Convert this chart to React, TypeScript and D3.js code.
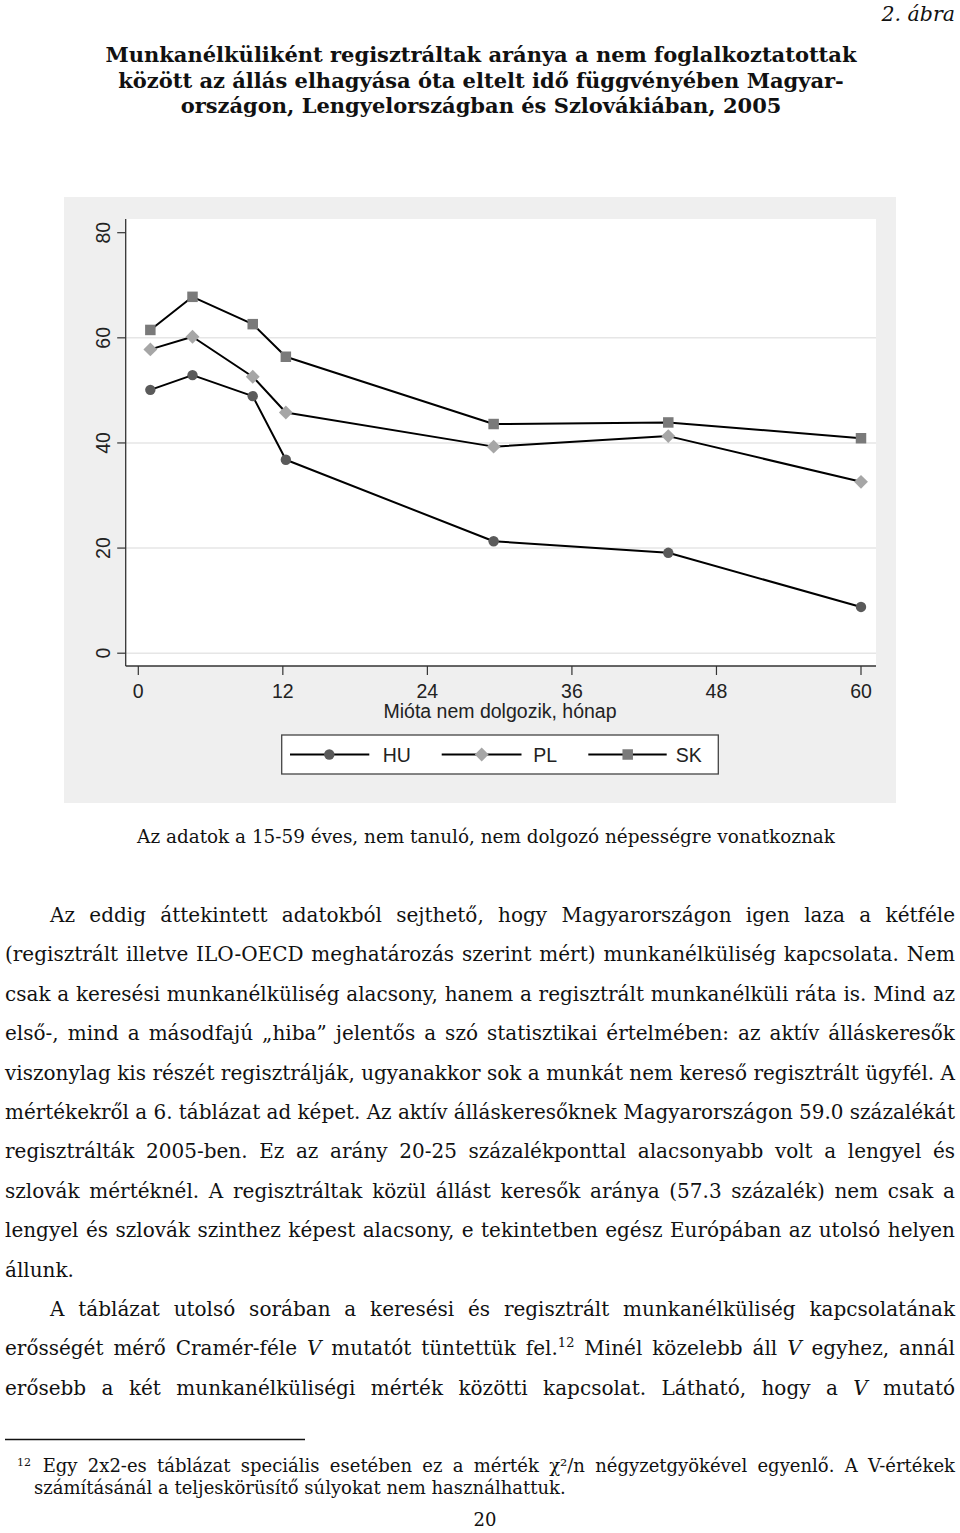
import React, { useRef, useEffect } from 'react';
import * as d3 from 'd3';

// months since leaving last job (bin midpoints as plotted)
const months = [1, 4.5, 9.5, 12.25, 29.5, 44, 60];
const huValues = [50.1, 52.9, 48.9, 36.8, 21.3, 19.1, 8.8];
const plValues = [57.8, 60.2, 52.6, 45.8, 39.3, 41.3, 32.6];
const skValues = [61.5, 67.8, 62.6, 56.4, 43.6, 43.9, 40.9];

const xTicks = [0, 12, 24, 36, 48, 60];
const yTicks = [0, 20, 40, 60, 80];
const gridValues = [0, 20, 40, 60];

const seriesNames = ['HU', 'PL', 'SK'];

const titleLines = [
  'Munkanélküliként regisztráltak aránya a nem foglalkoztatottak',
  'között az állás elhagyása óta eltelt idő függvényében Magyar-',
  'országon, Lengyelországban és Szlovákiában, 2005',
];
const figLabel = '2. ábra';
const xTitle = 'Mióta nem dolgozik, hónap';
const caption = 'Az adatok a 15-59 éves, nem tanuló, nem dolgozó népességre vonatkoznak';

// "{V}" = italic V, "^12" = superscript footnote mark
const bodyLines = [
  'Az eddig áttekintett adatokból sejthető, hogy Magyarországon igen laza a kétféle',
  '(regisztrált illetve ILO-OECD meghatározás szerint mért) munkanélküliség kapcsolata. Nem',
  'csak a keresési munkanélküliség alacsony, hanem a regisztrált munkanélküli ráta is. Mind az',
  'első-, mind a másodfajú „hiba” jelentős a szó statisztikai értelmében: az aktív álláskeresők',
  'viszonylag kis részét regisztrálják, ugyanakkor sok a munkát nem kereső regisztrált ügyfél. A',
  'mértékekről a 6. táblázat ad képet. Az aktív álláskeresőknek Magyarországon 59.0 százalékát',
  'regisztrálták 2005-ben. Ez az arány 20-25 százalékponttal alacsonyabb volt a lengyel és',
  'szlovák mértéknél. A regisztráltak közül állást keresők aránya (57.3 százalék) nem csak a',
  'lengyel és szlovák szinthez képest alacsony, e tekintetben egész Európában az utolsó helyen',
  'állunk.',
  'A táblázat utolsó sorában a keresési és regisztrált munkanélküliség kapcsolatának',
  'erősségét mérő Cramér-féle {V} mutatót tüntettük fel.^12 Minél közelebb áll {V} egyhez, annál',
  'erősebb a két munkanélküliségi mérték közötti kapcsolat. Látható, hogy a {V} mutató',
];
const indentLines = [0, 10];
const unjustifiedLines = [9];

const footnoteMark = '12';
const footnoteLines = [
  'Egy 2x2-es táblázat speciális esetében ez a mérték χ²/n négyzetgyökével egyenlő. A V-értékek',
  'számításánál a teljeskörüsítő súlyokat nem használhattuk.',
];
const pageNumber = '20';

const W = 960;
const H = 1533;
const sans = "'Liberation Sans', Arial, sans-serif";
const serif = "'DejaVu Serif', serif";

function renderSegments(line: string) {
  const parts = line.split(/(\{V\}|\^12)/).filter((p) => p !== '');
  let raised = false;
  return parts.map((p, i) => {
    if (p === '{V}') {
      const dy = raised ? 8 : undefined;
      raised = false;
      return <tspan key={i} fontStyle="italic" dy={dy}>V</tspan>;
    }
    if (p === '^12') {
      raised = true;
      return <tspan key={i} dy={-8} fontSize={13}>12</tspan>;
    }
    const dy = raised ? 8 : undefined;
    raised = false;
    return <tspan key={i} dy={dy}>{p}</tspan>;
  });
}

const App = () => {
  const svgRef = useRef<SVGSVGElement>(null);

  const x = d3.scaleLinear().domain([0, 60]).range([138.3, 861]);
  const y = d3.scaleLinear().domain([0, 80]).range([653.2, 232.7]);

  const plot = { left: 125.7, right: 876, top: 219, bottom: 666 };

  const series = [
    { name: 'HU', values: huValues, color: '#5a5a5a', shape: 'circle' },
    { name: 'PL', values: plValues, color: '#a6a6a6', shape: 'diamond' },
    { name: 'SK', values: skValues, color: '#7a7a7a', shape: 'square' },
  ];

  const line = d3
    .line<number>()
    .x((_, i) => x(months[i]))
    .y((d) => y(d));

  const circle = d3.symbol(d3.symbolCircle, Math.PI * 5.2 * 5.2)();
  const square = d3.symbol(d3.symbolSquare, 10.5 * 10.5)();
  const diamond = d3.symbol(d3.symbolSquare, 9.8 * 9.8)();

  const marker = (shape: string, cx: number, cy: number, color: string, key: any) => {
    if (shape === 'circle') return <path key={key} d={circle!} transform={`translate(${cx},${cy})`} fill={color} />;
    if (shape === 'square') return <path key={key} d={square!} transform={`translate(${cx},${cy})`} fill={color} />;
    return <path key={key} d={diamond!} transform={`translate(${cx},${cy}) rotate(45)`} fill={color} />;
  };

  const legendItems = [
    { x0: 290, x1: 369.3, mx: 329.3, tx: 382.7 },
    { x0: 441.7, x1: 521.5, mx: 481.7, tx: 533.3 },
    { x0: 588.3, x1: 666.7, mx: 627.7, tx: 675.7 },
  ];

  const bodyLeft = 5;
  const bodyRight = 955;
  const bodyTop = 922;
  const bodyPitch = 39.4;

  useEffect(() => {
    const svg = d3.select(svgRef.current);
    svg.selectAll<SVGTextElement, unknown>('text[data-justify]').each(function () {
      const el = this;
      const target = +(el.getAttribute('data-justify') || 0);
      el.style.wordSpacing = '0px';
      el.removeAttribute('textLength');
      const w = el.getComputedTextLength();
      const spaces = ((el.textContent || '').match(/ /g) || []).length;
      if (w < target && spaces > 0) {
        el.style.wordSpacing = `${(target - w) / spaces}px`;
      } else if (w > target) {
        el.setAttribute('textLength', String(target));
        el.setAttribute('lengthAdjust', 'spacingAndGlyphs');
      }
    });
  }, []);

  return (
    <svg
      ref={svgRef}
      width={W}
      height={H}
      style={{ position: 'absolute', left: 0, top: 0, display: 'block', background: '#fff' }}
    >
      <rect x={0} y={0} width={W} height={H} fill="#fff" />

      {/* figure label and title */}
      <text x={955} y={21} textAnchor="end" fontFamily={serif} fontStyle="italic" fontSize={20.5} fill="#111">
        {figLabel}
      </text>
      {titleLines.map((t, i) => (
        <text
          key={i}
          x={481}
          y={62 + i * 25.5}
          textAnchor="middle"
          fontFamily={serif}
          fontWeight="bold"
          fontSize={21}
          fill="#111"
        >
          {t}
        </text>
      ))}

      {/* graph area */}
      <rect x={64} y={197} width={832} height={606} fill="#efefef" />
      <rect x={plot.left} y={plot.top} width={plot.right - plot.left} height={plot.bottom - plot.top} fill="#fff" />

      {gridValues.map((v) => (
        <line key={v} x1={plot.left} x2={plot.right} y1={y(v)} y2={y(v)} stroke="#e6e6e6" strokeWidth={1.5} />
      ))}

      <line x1={plot.left} x2={plot.left} y1={plot.top} y2={plot.bottom} stroke="#333" strokeWidth={1.3} />
      <line x1={plot.left} x2={plot.right} y1={plot.bottom} y2={plot.bottom} stroke="#333" strokeWidth={1.3} />

      {yTicks.map((v) => (
        <g key={v}>
          <line x1={plot.left - 8.5} x2={plot.left} y1={y(v)} y2={y(v)} stroke="#333" strokeWidth={1.2} />
          <text
            transform={`translate(110,${y(v)}) rotate(-90)`}
            textAnchor="middle"
            fontFamily={sans}
            fontSize={19.5}
            fill="#222"
          >
            {v}
          </text>
        </g>
      ))}

      {xTicks.map((v) => (
        <g key={v}>
          <line x1={x(v)} x2={x(v)} y1={plot.bottom} y2={plot.bottom + 9} stroke="#333" strokeWidth={1.2} />
          <text x={x(v)} y={698.3} textAnchor="middle" fontFamily={sans} fontSize={19.5} fill="#222">
            {v}
          </text>
        </g>
      ))}
      <text x={500} y={718.3} textAnchor="middle" fontFamily={sans} fontSize={19.5} fill="#222">
        {xTitle}
      </text>

      {series.map((s) => (
        <g key={s.name}>
          <path d={line(s.values)!} fill="none" stroke="#000" strokeWidth={2} strokeLinejoin="round" />
          {s.values.map((v, i) => marker(s.shape, x(months[i]), y(v), s.color, i))}
        </g>
      ))}

      {/* legend */}
      <rect x={281.7} y={735} width={436.6} height={39} fill="#fff" stroke="#444" strokeWidth={1.3} />
      {series.map((s, i) => {
        const it = legendItems[i];
        return (
          <g key={s.name}>
            <line x1={it.x0} x2={it.x1} y1={754.5} y2={754.5} stroke="#000" strokeWidth={1.8} />
            {marker(s.shape, it.mx, 754.5, s.color, 'm')}
            <text x={it.tx} y={762.3} fontFamily={sans} fontSize={19.5} fill="#222">
              {seriesNames[i]}
            </text>
          </g>
        );
      })}

      {/* caption */}
      <text x={486} y={843} textAnchor="middle" fontFamily={serif} fontSize={18.4} fill="#111">
        {caption}
      </text>

      {/* body text */}
      {bodyLines.map((l, i) => {
        const left = indentLines.includes(i) ? 50 : bodyLeft;
        const justify = !unjustifiedLines.includes(i);
        return (
          <text
            key={i}
            x={left}
            y={bodyTop + i * bodyPitch}
            fontFamily={serif}
            fontSize={20}
            fill="#111"
            data-justify={justify ? bodyRight - left : undefined}
          >
            {renderSegments(l)}
          </text>
        );
      })}

      {/* footnote */}
      <line x1={5} x2={305} y1={1439.5} y2={1439.5} stroke="#111" strokeWidth={1.5} />
      <text x={17} y={1466} fontFamily={serif} fontSize={11} fill="#111">
        {footnoteMark}
      </text>
      <text x={42.7} y={1472} fontFamily={serif} fontSize={18} fill="#111" data-justify={955 - 42.7}>
        {footnoteLines[0]}
      </text>
      <text x={34} y={1494} fontFamily={serif} fontSize={18} fill="#111">
        {footnoteLines[1]}
      </text>

      <text x={485} y={1526} textAnchor="middle" fontFamily={serif} fontSize={18} fill="#111">
        {pageNumber}
      </text>
    </svg>
  );
};

export default App;
